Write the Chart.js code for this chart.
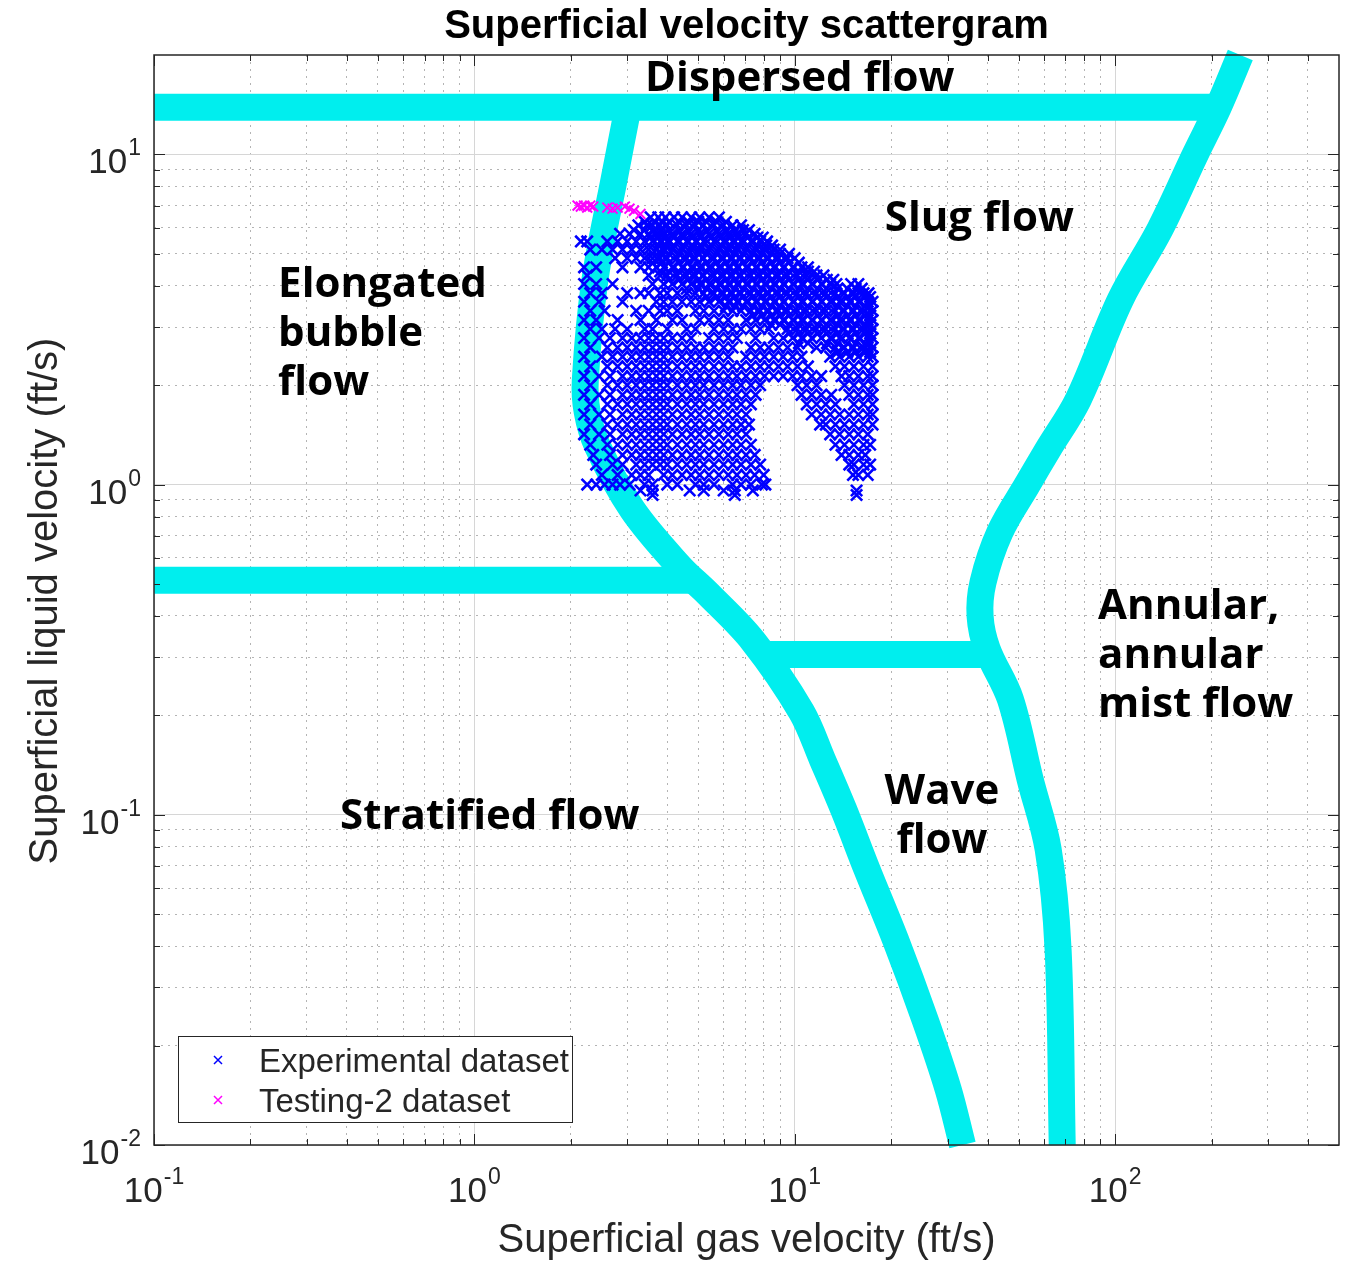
<!DOCTYPE html>
<html>
<head>
<meta charset="utf-8">
<script src="https://cdn.jsdelivr.net/npm/chart.js@4.4.1/dist/chart.umd.min.js"></script>
<style>
  html, body { margin: 0; background: #fff; }
  #wrap { width: 1359px; height: 1284px; }
</style>
</head>
<body>
<div id="wrap"><canvas id="chart" width="1359" height="1284"></canvas></div>
<script>
/* ============================
   Data
============================ */
const xRange = [0.1, 500];
const yRange = [0.01, 20];
const xDecades = [-1, 0, 1, 2];
const yDecades = [-2, -1, 0, 1];
const minorSteps = [2, 3, 4, 5, 6, 7, 8, 9];

// flow regime boundaries (gas velocity, liquid velocity)
const dispersedX = [0.1, 205];
const dispersedY = [13.9, 13.9];
const stratifiedX = [0.1, 4.8];
const stratifiedY = [0.513, 0.513];
const waveX = [8.0, 40];
const waveY = [0.306, 0.306];
const bubbleX = [3.02, 2.73, 2.38, 2.22, 2.25, 2.42, 3.11, 4.36, 5.37, 7.41, 10.5, 12.2, 14.2, 16.8, 20.6, 25.5, 30.1, 33.4];
const bubbleY = [13.9, 8.4, 4.18, 2.08, 1.66, 1.31, 0.841, 0.566, 0.466, 0.336, 0.205, 0.147, 0.104, 0.0684, 0.042, 0.024, 0.0148, 0.01];
const annularX = [246, 210, 178, 138, 104, 76.7, 61.8, 53.2, 43.7, 38.7, 37.9, 39.9, 47.1, 54.3, 61.8, 66.4, 68.4];
const annularY = [20, 13.9, 10, 5.93, 3.64, 1.81, 1.28, 1.0, 0.718, 0.506, 0.399, 0.317, 0.224, 0.128, 0.0787, 0.039, 0.01];

// testing-2 points (magenta)
const testX = [2.1, 2.15, 2.2, 2.25, 2.3, 2.35, 2.6, 2.7, 2.8, 2.95, 3.05, 3.15, 3.3];
const testY = [7.0, 6.95, 7.0, 6.9, 7.0, 6.95, 6.9, 6.85, 6.9, 6.95, 6.85, 6.75, 6.6];

// experimental points, row by row: [liquid velocity, 'gas velocities']
const expRows = [
  [6.45, '3.55 3.75 3.95 4.2 4.45 4.75 5.05 5.4 5.8'],
  [6.25, '3.4 3.65 3.85 4.05 4.35 4.65 5.0 5.3 5.7 6.1'],
  [6.1, '3.25 3.45 3.6 3.8 4.0 4.3 4.6 4.9 5.2 5.6 6.0 6.4 6.8'],
  [5.9, '3.15 3.4 3.65 3.85 4.05 4.35 4.65 5.0 5.3 5.7 6.1 6.5 6.9 7.2'],
  [5.75, '2.85 3.05 3.3 3.5 3.7 3.9 4.15 4.45 4.75 5.05 5.4 5.8 6.2 6.6 7.05 7.5'],
  [5.6, '3.55 3.75 3.95 4.2 4.5 4.8 5.1 5.5 5.9 6.3 6.7 7.15 7.65 7.95'],
  [5.45, '2.15 2.25 2.6 2.8 3.0 3.2 3.4 3.6 3.8 4.0 4.3 4.6 4.9 5.2 5.6 6.0 6.4 6.8 7.3 7.8 8.2'],
  [5.3, '3.5 3.75 3.95 4.2 4.5 4.8 5.1 5.5 5.9 6.3 6.7 7.15 7.65 8.15 8.5'],
  [5.15, '2.3 2.5 2.7 2.9 3.1 3.3 3.5 3.7 3.9 4.15 4.45 4.75 5.05 5.4 5.8 6.2 6.6 7.05 7.55 8.05 8.6 9.0'],
  [5.0, '3.6 3.85 4.05 4.35 4.65 5.0 5.3 5.7 6.1 6.5 6.9 7.4 7.9 8.45 9.0 9.6'],
  [4.85, '2.75 3.0 3.2 3.4 3.6 3.8 4.0 4.3 4.6 4.9 5.2 5.6 6.0 6.4 6.8 7.3 7.8 8.3 8.9 9.5 10.0'],
  [4.7, '3.6 3.85 4.05 4.35 4.65 5.0 5.3 5.7 6.1 6.5 6.9 7.4 7.9 8.45 9.0 9.6 10.3'],
  [4.55, '2.2 2.4 2.9 3.3 3.5 3.7 3.9 4.15 4.45 4.75 5.05 5.4 5.8 6.2 6.6 7.05 7.55 8.05 8.6 9.2 9.85 10.5 11.0'],
  [4.42, '3.8 4.05 4.35 4.65 5.0 5.3 5.7 6.1 6.5 6.9 7.4 7.9 8.45 9.0 9.6 10.3 11.0 11.5'],
  [4.3, '2.25 3.5 3.8 4.0 4.3 4.6 4.9 5.2 5.6 6.0 6.4 6.8 7.3 7.8 8.3 8.9 9.5 10.2 10.9 11.7 12.3'],
  [4.17, '4.05 4.35 4.65 5.0 5.3 5.7 6.1 6.5 6.9 7.4 7.9 8.45 9.0 9.6 10.3 11.0 11.8 12.6 13.2'],
  [4.05, '2.2 2.4 2.7 3.6 3.9 4.15 4.45 4.75 5.05 5.4 5.8 6.2 6.6 7.05 7.55 8.05 8.6 9.2 9.85 10.5 11.3 12.1 12.9 13.5 15.0 15.8'],
  [3.92, '4.6 5.0 5.3 5.7 6.1 6.5 6.9 7.4 7.9 8.45 9.0 9.6 10.3 11.0 11.8 12.6 13.6 14.6 15.5 16.2'],
  [3.8, '2.3 2.5 3.0 3.3 3.5 3.8 4.0 4.3 4.6 4.9 5.2 5.6 6.0 6.4 6.8 7.3 7.8 8.3 8.9 9.5 10.2 10.9 11.7 12.5 13.4 14.3 15.3 16.4 17.0'],
  [3.7, '5.3 5.7 6.1 6.5 6.9 7.4 7.9 8.45 9.0 9.6 10.3 11.0 11.8 12.6 13.6 14.6 15.5 16.6 17.2'],
  [3.58, '2.2 2.45 2.9 3.7 3.9 4.15 4.45 4.75 5.05 5.4 5.8 6.2 6.6 7.05 7.55 8.05 8.6 9.2 9.85 10.5 11.3 12.1 12.9 13.8 14.8 15.8 16.9 17.5'],
  [3.47, '6.1 6.5 6.9 7.4 7.9 8.45 9.0 9.6 10.3 11.0 11.8 12.6 13.6 14.6 15.5 16.6 17.2'],
  [3.36, '2.3 2.55 3.2 3.5 3.8 4.0 4.3 4.9 5.2 5.6 6.0 6.4 6.8 7.3 7.8 8.3 8.9 9.5 10.2 10.9 11.7 12.5 13.4 14.3 15.3 16.4 17.5'],
  [3.25, '7.4 7.9 8.45 9.0 9.6 10.3 11.0 11.8 12.6 13.6 14.6 15.5 16.6 17.2'],
  [3.15, '2.2 2.4 2.8 3.3 3.7 4.15 4.45 5.05 5.4 5.8 6.2 7.05 7.55 8.05 8.6 9.2 9.85 10.5 11.3 12.1 12.9 13.8 14.8 15.8 16.9 17.5'],
  [3.05, '8.45 9.0 9.6 10.3 11.0 11.8 12.6 13.6 14.6 15.5 16.6 17.2'],
  [2.96, '2.3 2.5 2.75 3.0 3.4 3.6 4.0 4.6 4.9 5.6 6.0 6.4 6.8 7.3 7.8 8.3 9.5 10.2 10.9 11.7 12.5 13.4 14.3 15.3 16.4 17.5'],
  [2.87, '9.6 10.3 11.0 11.8 12.6 13.6 14.6 15.5 16.6 17.2'],
  [2.78, '2.2 2.45 2.65 2.9 3.1 3.3 3.5 3.7 3.9 4.15 4.45 4.75 5.4 5.8 6.2 6.6 7.55 8.6 9.2 9.85 10.5 11.3 12.1 12.9 13.8 14.8 15.8 16.9 17.5'],
  [2.68, '10.3 11.0 12.6 13.6 14.6 15.5 16.6 17.2'],
  [2.6, '2.3 2.6 2.8 3.0 3.2 3.4 3.6 3.8 4.0 4.3 4.6 4.9 5.2 5.6 6.0 6.4 7.3 7.8 8.3 8.9 9.5 10.2 11.7 12.5 13.4 14.3 15.3 16.4 17.5'],
  [2.52, '13.6 14.6 15.5 16.6 17.2'],
  [2.44, '2.2 2.5 2.7 2.9 3.1 3.3 3.5 3.7 3.9 4.15 4.45 4.75 5.05 5.4 5.8 6.2 7.05 7.55 8.05 8.6 9.2 9.85 10.5 12.9 13.8 14.8 15.8 16.9 17.5'],
  [2.28, '2.3 2.6 2.8 3.0 3.2 3.4 3.6 3.8 4.0 4.3 4.6 4.9 5.2 5.6 6.0 6.4 6.8 7.3 7.8 8.3 8.9 9.5 10.2 11.0 13.4 14.3 15.3 16.4 17.5'],
  [2.13, '2.2 2.45 2.65 2.9 3.1 3.3 3.5 3.7 3.9 4.15 4.45 4.75 5.05 5.4 5.8 6.2 6.6 7.05 7.55 8.05 8.6 9.2 9.85 10.5 11.3 12.1 14.0 14.8 15.8 16.9 17.5'],
  [2.0, '2.3 2.6 2.8 3.0 3.2 3.4 3.6 3.8 4.0 4.3 4.6 4.9 5.2 5.6 6.0 6.4 6.8 7.3 7.8 10.2 10.9 11.7 14.3 15.3 16.4 17.5'],
  [1.87, '2.2 2.45 2.65 2.9 3.1 3.3 3.5 3.7 3.9 4.15 4.45 4.75 5.05 5.4 5.8 6.2 6.6 7.05 7.55 10.5 11.3 12.1 13.0 14.8 15.8 16.9 17.5'],
  [1.75, '2.3 2.6 2.8 3.0 3.2 3.4 3.6 3.8 4.0 4.3 4.6 4.9 5.2 5.6 6.0 6.4 6.8 7.3 10.9 11.7 12.5 13.4 15.3 16.4 17.5'],
  [1.63, '2.2 2.45 2.65 2.9 3.1 3.3 3.5 3.7 3.9 4.15 4.45 4.75 5.05 5.4 5.8 6.2 6.6 7.05 11.3 12.1 12.9 13.8 14.8 15.8 16.9 17.5'],
  [1.52, '2.3 2.6 2.8 3.0 3.2 3.4 3.6 3.8 4.0 4.3 4.6 4.9 5.2 5.6 6.0 6.4 6.8 7.2 12.0 12.5 13.4 14.3 15.3 16.4 17.5'],
  [1.42, '2.2 2.45 2.65 2.9 3.1 3.3 3.5 3.7 3.9 4.15 4.45 4.75 5.05 5.4 5.8 6.2 6.6 7.05 12.9 13.8 14.8 15.8 16.9'],
  [1.32, '2.3 2.6 2.8 3.0 3.2 3.4 3.6 3.8 4.0 4.3 4.6 4.9 5.2 5.6 6.0 6.4 6.8 7.3 13.4 14.3 15.3 16.4 17.2'],
  [1.23, '2.35 2.65 2.9 3.1 3.3 3.5 3.7 3.9 4.15 4.45 4.75 5.05 5.4 5.8 6.2 6.6 7.05 7.5 14.0 14.8 15.8 16.6'],
  [1.15, '2.4 2.7 2.9 3.2 3.4 3.6 3.8 4.0 4.3 4.6 4.9 5.2 5.6 6.0 6.4 6.8 7.3 7.8 14.8 15.3 16.4 17.2'],
  [1.07, '2.5 2.8 3.1 3.3 3.5 3.9 4.15 4.45 4.75 5.05 5.4 5.8 6.2 6.6 7.05 7.5 8.0 15.2 15.8 16.9'],
  [1.0, '2.25 2.4 2.55 2.7 2.85 3.05 3.4 3.6 4.0 4.3 4.9 5.2 5.6 6.4 6.8 7.3 7.9 8.1'],
  [0.96, '3.3 3.6 4.7 5.2 6.0 6.5 7.4 15.6'],
  [0.93, '3.6 6.5 15.6']
];

const regionText = [
  { lines: ['Dispersed flow'], x: 3.41, y: 15.6, align: 'left' },
  { lines: ['Slug flow'], x: 19.1, y: 5.85, align: 'left' },
  { lines: ['Elongated', 'bubble', 'flow'], x: 0.244, y: 3.69, align: 'left' },
  { lines: ['Stratified flow'], x: 0.381, y: 0.0904, align: 'left' },
  { lines: ['Wave', 'flow'], x: 28.8, y: 0.1076, align: 'center' },
  { lines: ['Annular,', 'annular', 'mist flow'], x: 88.5, y: 0.391, align: 'left' }
];

/* ============================
   Build datasets
============================ */
const expPoints = [];
expRows.forEach(([yv, xs]) => xs.split(' ').forEach(xv => expPoints.push({ x: parseFloat(xv), y: yv })));
const testPoints = testX.map((v, i) => ({ x: v, y: testY[i] }));

const band = (label, xs, ys, tension) => ({
  type: 'line', label, data: xs.map((v, i) => ({ x: v, y: ys[i] })),
  borderColor: '#00eeee', borderWidth: 27, pointRadius: 0, tension, fill: false,
  borderCapStyle: 'butt', borderJoinStyle: 'round', clip: false, order: 2
});

const decadeTicks = (decs, last) => {
  const out = [];
  decs.forEach(e => {
    out.push({ value: Math.pow(10, e), major: true });
    if (e !== last) minorSteps.forEach(m => out.push({ value: m * Math.pow(10, e), major: false }));
  });
  return out;
};
const xTicks = decadeTicks(xDecades, 99).filter(t => t.value < xRange[1]);
const yTicks = decadeTicks(yDecades, 1);

const FONT = '"Liberation Sans", Arial, Helvetica, sans-serif';
const INK = '#262626';

function powerLabel(ctx, e, px, py, align) {
  ctx.font = '35px ' + FONT;
  const w1 = ctx.measureText('10').width;
  ctx.font = '23px ' + FONT;
  const sup = String(e), w2 = ctx.measureText(sup).width;
  const total = w1 + 1 + w2;
  const left = align === 'center' ? px - total / 2 : px - total;
  ctx.textAlign = 'left'; ctx.textBaseline = 'alphabetic';
  ctx.font = '35px ' + FONT; ctx.fillText('10', left, py);
  ctx.font = '23px ' + FONT; ctx.fillText(sup, left + w1 + 1, py - 18);
}

const decor = {
  id: 'decor',
  afterDraw(chart) {
    const { ctx, chartArea: a, scales: { x: sx, y: sy } } = chart;
    ctx.save();
    // inside tick marks on all four sides
    ctx.strokeStyle = INK; ctx.lineWidth = 1;
    ctx.beginPath();
    sx.ticks.forEach(t => {
      const p = Math.round(sx.getPixelForValue(t.value)) + 0.5, len = t.major ? 11 : 6;
      ctx.moveTo(p, a.bottom); ctx.lineTo(p, a.bottom - len);
      ctx.moveTo(p, a.top); ctx.lineTo(p, a.top + len);
    });
    sy.ticks.forEach(t => {
      const p = Math.round(sy.getPixelForValue(t.value)) + 0.5, len = t.major ? 11 : 6;
      ctx.moveTo(a.left, p); ctx.lineTo(a.left + len, p);
      ctx.moveTo(a.right, p); ctx.lineTo(a.right - len, p);
    });
    ctx.stroke();
    ctx.lineWidth = 1.5;
    ctx.strokeRect(a.left, a.top, a.right - a.left, a.bottom - a.top);

    // tick labels
    ctx.fillStyle = INK;
    xDecades.forEach(e => powerLabel(ctx, e, sx.getPixelForValue(Math.pow(10, e)), a.bottom + 57, 'center'));
    yDecades.forEach(e => powerLabel(ctx, e, a.left - 13, sy.getPixelForValue(Math.pow(10, e)) + 19, 'right'));

    // axis titles
    ctx.font = '40px ' + FONT; ctx.textAlign = 'center'; ctx.textBaseline = 'alphabetic';
    ctx.fillText('Superficial gas velocity (ft/s)', (a.left + a.right) / 2, a.bottom + 107);
    ctx.save();
    ctx.translate(57, (a.top + a.bottom) / 2 + 1); ctx.rotate(-Math.PI / 2);
    ctx.fillText('Superficial liquid velocity (ft/s)', 0, 0);
    ctx.restore();

    // chart title
    ctx.fillStyle = '#000';
    ctx.font = 'bold 40px ' + FONT;
    ctx.fillText('Superficial velocity scattergram', (a.left + a.right) / 2, 38);

    // flow regime names
    ctx.font = 'bold 42px "Open Sans", "Noto Sans", sans-serif';
    regionText.forEach(r => {
      ctx.textAlign = r.align;
      const px = sx.getPixelForValue(r.x), py = sy.getPixelForValue(r.y);
      r.lines.forEach((s, i) => ctx.fillText(s, px, py + i * 49));
    });

    // legend box
    ctx.fillStyle = '#fff'; ctx.strokeStyle = INK; ctx.lineWidth = 1;
    ctx.fillRect(178, 1036, 394, 86); ctx.strokeRect(178.5, 1036.5, 394, 86);
    ctx.font = '33px ' + FONT; ctx.textAlign = 'left'; ctx.fillStyle = INK;
    chart.data.datasets.filter(d => d.type === 'scatter').forEach((d, i) => {
      const cy = 1060 + i * 40;
      ctx.strokeStyle = d.borderColor; ctx.lineWidth = 1.5;
      ctx.beginPath();
      ctx.moveTo(214, cy - 4); ctx.lineTo(222, cy + 4);
      ctx.moveTo(214, cy + 4); ctx.lineTo(222, cy - 4);
      ctx.stroke();
      ctx.fillText(d.label, 259, cy + 12);
    });
    ctx.restore();
  }
};

new Chart(document.getElementById('chart'), {
  type: 'scatter',
  data: {
    datasets: [
      { type: 'scatter', label: 'Experimental dataset', data: expPoints, pointStyle: 'crossRot',
        pointRadius: 8, borderWidth: 2.6, borderColor: '#0000ff', backgroundColor: '#0000ff', order: 1 },
      { type: 'scatter', label: 'Testing-2 dataset', data: testPoints, pointStyle: 'crossRot',
        pointRadius: 7, borderWidth: 2, borderColor: '#ff00ff', backgroundColor: '#ff00ff', order: 0 },
      band('dispersed', dispersedX, dispersedY, 0),
      band('stratified', stratifiedX, stratifiedY, 0),
      band('wave', waveX, waveY, 0),
      band('bubble', bubbleX, bubbleY, 0.35),
      band('annular', annularX, annularY, 0.35)
    ]
  },
  options: {
    responsive: false,
    animation: false,
    events: [],
    devicePixelRatio: 1,
    layout: { padding: { left: 154, top: 55, right: 20, bottom: 139 } },
    plugins: { legend: { display: false }, tooltip: { enabled: false }, title: { display: false } },
    scales: {
      x: {
        type: 'logarithmic', min: xRange[0], max: xRange[1],
        afterBuildTicks: s => { s.ticks = xTicks.map(t => ({ ...t })); },
        ticks: { display: false },
        grid: { drawTicks: false, lineWidth: 1, color: c => (c.tick && c.tick.major) ? '#d6d6d6' : '#b4b4b4' },
        border: { display: false, dash: c => (c.tick && !c.tick.major) ? [2, 5] : [] }
      },
      y: {
        type: 'logarithmic', min: yRange[0], max: yRange[1],
        afterBuildTicks: s => { s.ticks = yTicks.map(t => ({ ...t })); },
        ticks: { display: false },
        grid: { drawTicks: false, lineWidth: 1, color: c => (c.tick && c.tick.major) ? '#d6d6d6' : '#b4b4b4' },
        border: { display: false, dash: c => (c.tick && !c.tick.major) ? [2, 5] : [] }
      }
    }
  },
  plugins: [decor]
});
</script>
</body>
</html>
